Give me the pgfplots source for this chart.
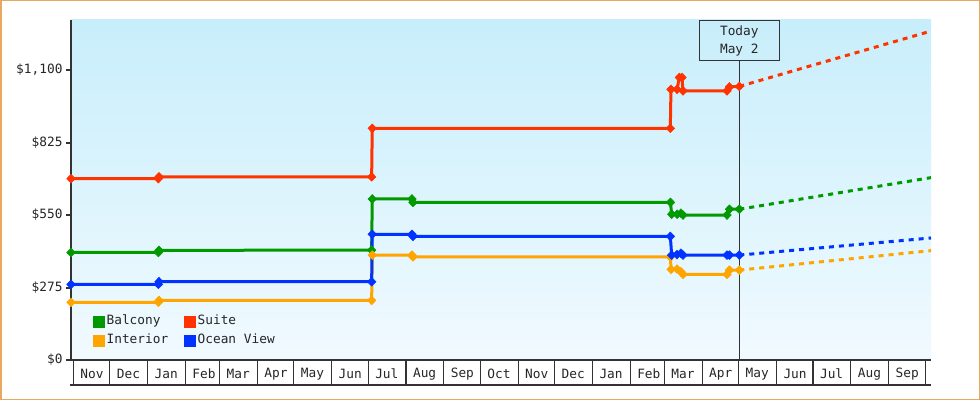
\documentclass[border=0pt]{standalone}
\usepackage{pgfplots}
\pgfplotsset{compat=1.18}
\usepackage{fontspec}
\setmainfont{DejaVu Sans Mono}
\definecolor{cBal}{RGB}{0,153,0}
\definecolor{cSui}{RGB}{255,51,0}
\definecolor{cInt}{RGB}{255,165,0}
\definecolor{cOce}{RGB}{0,51,255}
\definecolor{frameC}{RGB}{232,168,96}
\definecolor{axC}{RGB}{51,51,51}
\definecolor{bgTop}{RGB}{200,238,251}
\definecolor{bgBot}{RGB}{241,250,255}
\newcommand{\lblfont}{\fontsize{12.8bp}{18bp}\selectfont}
\begin{document}
\begin{tikzpicture}[font=\lblfont]
\useasboundingbox (0,0) rectangle (980bp,400bp);
\fill[white] (0,0) rectangle (980bp,400bp);
\draw[frameC, line width=1.5bp] (0.75bp,0.75bp) rectangle (979.25bp,399.25bp);
\begin{axis}[
  at={(71bp,40bp)}, anchor=south west,
  scale only axis, width=860bp, height=340bp,
  xmin=-1.9, xmax=703.8, ymin=0, ymax=1290,
  axis lines*=left,
  axis line style={axC, line width=2bp},
  axis background/.style={shade, top color=bgTop, bottom color=bgBot, draw=none},
  ytick={0,275,550,825,1100},
  yticklabels={\$0,\$275,\$550,\$825,{\$1,100}},
  xtick={0,30,61,92,120,151,181,212,242,273,304,334,365,395,426,457,485,516,546,577,607,638,669,699},
  xticklabels={Nov,Dec,Jan,Feb,Mar,Apr,May,Jun,Jul,Aug,Sep,Oct,Nov,Dec,Jan,Feb,Mar,Apr,May,Jun,Jul,Aug,Sep,{}},
  tick align=outside,
  major tick length=5bp,
  xtick style={/pgfplots/major tick length=25bp, axC, line width=1.2bp},
  ytick style={axC, line width=2bp},
  tick label style={font=\lblfont, text=black!85},
  xticklabel style={anchor=center, xshift=18.6bp, yshift=-9bp},
  minor tick num=0,
  clip=false,
  legend columns=2,
  legend cell align=left,
  legend image code/.code={\fill[#1] (0bp,-5.5bp) rectangle (11bp,5.5bp);},
  legend style={at={(rel axis cs:0.0256,0.133)}, anchor=north west, draw=none, fill=none,
    inner sep=0pt, row sep=7bp, column sep=0bp,
    nodes={inner xsep=2bp, inner ysep=0pt, text height=9.5bp, text depth=3bp, font=\lblfont, text=black!85},
    /tikz/column 2/.style={column sep=14bp}},
  mk/.style={mark=diamond*, mark size=4.4bp, mark options={solid, line width=0.5bp, xscale=1.3}},
]
\addlegendimage{cBal}\addlegendentry{Balcony}
\addlegendimage{cSui}\addlegendentry{Suite}
\addlegendimage{cInt}\addlegendentry{Interior}
\addlegendimage{cOce}\addlegendentry{Ocean View}

% Balcony
\addplot[forget plot, cBal, line width=3bp, mk] coordinates {
(-1.9,408) (69.8,408) (70.3,416) (244.8,417) (245.3,611) (277.9,611) (278.7,598)
(490.0,598) (491.0,553) (495.5,553) (498.6,557) (500.3,550) (536.4,550) (538.4,572) (546.5,572)};
\addplot[forget plot, cBal, line width=3bp, dash pattern=on 5bp off 5bp] coordinates {(546.5,572) (703.8,692)};
% Suite
\addplot[forget plot, cSui, line width=3bp, mk] coordinates {
(-1.9,688) (69.8,688) (70.3,695) (244.8,695) (245.3,879)
(489.9,879) (490.4,1027) (495.4,1027) (497.3,1072) (499.5,1072) (500.3,1021) (536.4,1021) (538.4,1036) (546.5,1038)};
\addplot[forget plot, cSui, line width=3bp, dash pattern=on 5bp off 5bp] coordinates {(546.5,1038) (703.8,1248)};
% Interior
\addplot[forget plot, cInt, line width=3bp, mk] coordinates {
(-1.9,219) (69.8,219) (70.3,226) (244.8,226) (245.3,398) (277.9,398) (278.7,391)
(489.9,391) (490.5,344) (495.4,345) (498.6,335) (500.3,325) (536.4,325) (538.4,341) (546.5,341)};
\addplot[forget plot, cInt, line width=3bp, dash pattern=on 5bp off 5bp] coordinates {(546.5,341) (703.8,415)};
% Ocean View
\addplot[forget plot, cOce, line width=3bp, mk] coordinates {
(-1.9,287) (69.8,287) (70.3,297) (244.8,297) (245.3,477) (277.9,477) (278.7,469)
(489.9,469) (491.0,398) (495.4,400) (498.6,405) (500.3,398) (536.4,398) (538.4,398) (546.5,398)};
\addplot[forget plot, cOce, line width=3bp, dash pattern=on 5bp off 5bp] coordinates {(546.5,398) (703.8,463)};

% today marker
\draw[axC, line width=1bp] (axis cs:546.5,0) -- (axis cs:546.5,1138);
\node[draw=axC, line width=1bp, minimum width=80bp, minimum height=40bp, anchor=north, align=center, inner sep=0pt, text=black!85, font=\lblfont] at (axis cs:546.5,1290) {Today\\May 2};
% bottom line of month boxes
\draw[axC, line width=1.2bp] ([xshift=-1bp,yshift=-25bp]rel axis cs:0,0) -- ([yshift=-25bp]rel axis cs:1,0);
\end{axis}
\end{tikzpicture}
\end{document}
